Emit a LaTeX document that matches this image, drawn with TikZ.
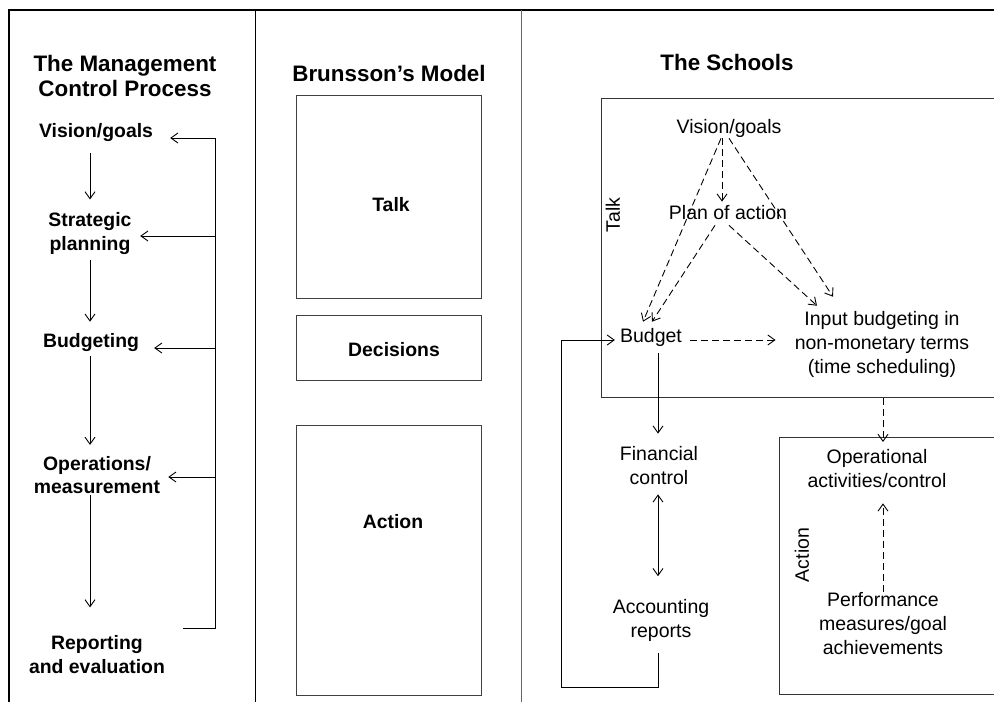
\documentclass[tikz,border=0pt]{standalone}
\usepackage{fontspec}
\setmainfont{Liberation Sans}
\usetikzlibrary{arrows.meta,calc}
\begin{document}
\begin{tikzpicture}[x=1pt,y=-1pt,
  tip/.tip={Straight Barb[length=7pt,width=10pt]},
  arr/.style={line width=0.9pt,-tip},
  darr/.style={arr,dash pattern=on 7pt off 4pt},
  biarr/.style={line width=0.9pt,tip-tip},
  frame/.style={line width=1pt},
  box/.style={draw=black!75,line width=1pt,inner sep=0pt,anchor=north west},
  head/.style={inner sep=0pt,align=center,font=\fontsize{22.4}{25}\selectfont\bfseries},
  bstep/.style={inner sep=0pt,align=center,font=\fontsize{19.4}{23.5}\selectfont\bfseries},
  rstep/.style={inner sep=0pt,align=center,font=\fontsize{19.5}{24}\selectfont}]
\useasboundingbox (0,0) rectangle (994,702);
\clip (0,0) rectangle (994,702);

% outer frame and column separators
\draw[line width=2pt] (9,702) -- (9,10) -- (994,10);
\draw[frame] (255,10) -- (255,702);
\draw[frame,black!60] (521,10) -- (521,702);

% ---------- column 1: the management control process ----------
\node[head] (t1) at (125,75.5) {The Management\\Control Process};
\node[bstep] (vg) at (96,133)   {Vision/goals};
\node[bstep] (sp) at (90,233.5) {Strategic\\planning};
\node[bstep] (bu) at (91,343)   {Budgeting};
\node[bstep] (op) at (97,475)   {Operations/\\measurement};
\node[bstep] (re) at (97,654.5) {Reporting\\and evaluation};

\draw[arr] ($(vg.south)+(-6,11)$) -- ($(sp.north)+(0,-13)$);
\draw[arr] ($(sp.south)+(0,5)$)   -- ($(bu.north)+(-1,-12)$);
\draw[arr] ($(bu.south)+(-1,4)$)  -- ($(op.north)+(-7,-11)$);
\draw[arr] ($(op.south)+(-7,1)$)  -- ($(re.north)+(-7,-28)$);

% feedback loop
\coordinate (fbT) at (215,138);
\coordinate (fbB) at ($(re.east -| fbT)+(0,-26.5)$);
\draw[frame] ($(re.east)+(18,-26.5)$) -- (fbB) -- (fbT);
\draw[arr] (fbT) -- ($(fbT -| vg.east)+(17,0)$);
\draw[arr] ($(sp.east -| fbT)+(0,2.5)$) -- ($(sp.east)+(8.5,2.5)$);
\draw[arr] ($(bu.east -| fbT)+(0,5)$)   -- ($(bu.east)+(15,5)$);
\draw[arr] ($(op.east -| fbT)+(0,2)$)   -- ($(op.east)+(8,2)$);

% ---------- column 2: Brunsson's model ----------
\node[head] (t2) at (389,73) {Brunsson’s Model};
\node[box,minimum width=185,minimum height=203] (talkbox) at (296,95) {};
\node[box,minimum width=185,minimum height=65]  (decbox)  at (296,315) {};
\node[box,minimum width=185,minimum height=270] (actbox)  at (296,425) {};
\node[bstep] at (391,205) {Talk};
\node[bstep] at (394,350) {Decisions};
\node[bstep] at (393,522) {Action};

% ---------- column 3: the schools ----------
\node[head] (t3) at (727,62) {The Schools};
\node[box,draw=black!80,minimum width=400,minimum height=299] (tb) at (601,98) {};
\node[box,draw=black!80,minimum width=220,minimum height=257] (ab) at (779,437) {};
\node[rstep,rotate=90] at (613,215) {Talk};
\node[rstep,rotate=90] at (802,555) {Action};

\node[rstep] (sv) at (729,128) {Vision/goals};
\node[rstep] (pa) at (728,213) {Plan of action};
\node[rstep] (bg) at (651,337) {Budget};
\node[rstep] (ib) at (882,344) {Input budgeting in\\non-monetary terms\\(time scheduling)};
\node[rstep] (fc) at (659,466) {Financial\\control};
\node[rstep] (ar) at (661,620.5) {Accounting\\reports};
\node[rstep] (oa) at (877,469) {Operational\\activities/control};
\node[rstep] (pm) at (883,624) {Performance\\measures/goal\\achievements};

\draw[darr] ($(sv.south)+(-7,1)$)  -- ($(pa.north)+(-6,-4)$);
\draw[darr] ($(sv.south)+(-8,1)$)  -- ($(bg.north)+(-8,-6)$);
\draw[darr] ($(pa.south)+(-13,5)$) -- ($(bg.north)+(1,-6)$);
\draw[darr] ($(sv.south)+(0,1)$)   -- ($(ib.north)+(-49,-14)$);
\draw[darr] ($(pa.south)+(1,5)$)   -- ($(ib.north)+(-65,-5)$);
\draw[darr] ($(bg.east)+(8,3)$)    -- ($(bg.east -| ib.west)+(-19,3)$);
\draw[darr] (tb.south -| 883,0)    -- ($(ab.north -| 883,0)+(0,5)$);
\draw[darr] ($(pm.north)+(0,-1)$)  -- ($(oa.south -| pm.north)+(0,15)$);

\draw[arr]   ($(bg.south)+(7,7)$)  -- ($(fc.north)+(-1,-13)$);
\draw[biarr] ($(fc.south)+(-1,9)$) -- ($(ar.north)+(-3,-23)$);
\coordinate (lp) at (561,687);
\draw[arr] ($(ar.south)+(-3,11)$) |- (lp) |- ($(bg.west)+(-5,3)$);
\end{tikzpicture}
\end{document}
